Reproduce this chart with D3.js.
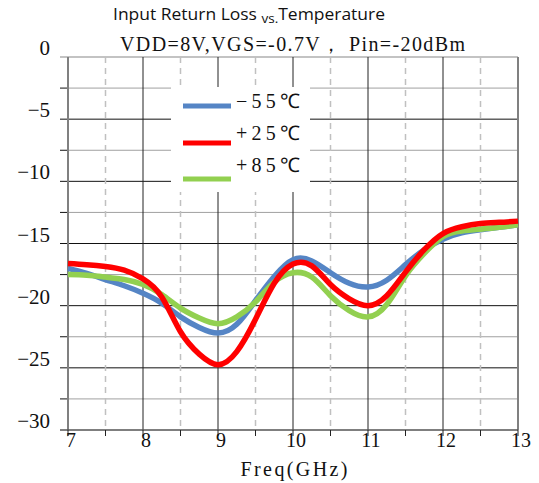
<!DOCTYPE html>
<html><head><meta charset="utf-8">
<script src="https://cdn.jsdelivr.net/npm/d3@7"></script>
<style>body{margin:0;background:#fff}svg{display:block}</style>
</head><body>
<svg id="c" width="539" height="483"></svg>
<script>
const freqs = [7, 7.25, 7.5, 7.75, 8, 8.25, 8.5, 8.75, 9, 9.25, 9.5, 9.75, 10, 10.25, 10.5, 10.75, 11, 11.25, 11.5, 11.75, 12, 12.25, 12.5, 12.75, 13];
const m55 = [-17.0, -17.4, -17.9, -18.4, -19.0, -19.8, -20.9, -21.75, -22.2, -21.5, -19.6, -17.65, -16.3, -16.4, -17.35, -18.2, -18.5, -17.95, -16.7, -15.5, -14.65, -14.15, -13.9, -13.7, -13.5];
const p25 = [-16.6, -16.7, -16.85, -17.15, -17.85, -19.3, -22.1, -23.9, -24.75, -23.7, -21.1, -18.2, -16.65, -16.8, -18.3, -19.45, -20.0, -19.2, -17.3, -15.5, -14.2, -13.65, -13.4, -13.3, -13.2];
const p85 = [-17.5, -17.55, -17.7, -17.9, -18.3, -19.1, -20.2, -21.0, -21.45, -20.9, -19.7, -18.1, -17.35, -17.7, -19.2, -20.4, -20.9, -19.9, -17.6, -15.8, -14.45, -14.0, -13.85, -13.7, -13.5];
const seriesNames = ["\u221255\u2103", "+25\u2103", "+85\u2103"];
const seriesColors = ["#5585C5", "#FF0000", "#92D050"];
const xTicks = [7, 8, 9, 10, 11, 12, 13];
const yTicks = [0, -5, -10, -15, -20, -25, -30];

const svg = d3.select("#c");
const L = 68, R = 518, T = 57, B = 430;
const x = d3.scaleLinear().domain([7, 13]).range([L, R]);
const y = d3.scaleLinear().domain([-30, 0]).range([B, T]);

// horizontal grid
const minorY = d3.range(-27.5, 0, 5);
svg.append("g").selectAll("line").data(minorY).join("line")
  .attr("x1", L).attr("x2", R).attr("y1", d => y(d)).attr("y2", d => y(d))
  .attr("stroke", "#a0a0a0").attr("stroke-width", 1);
svg.append("g").selectAll("line").data([-5, -10, -15, -20, -25]).join("line")
  .attr("x1", L - 8).attr("x2", R).attr("y1", d => y(d)).attr("y2", d => y(d))
  .attr("stroke", "#111").attr("stroke-width", 1);
svg.append("g").selectAll("line").data(minorY).join("line")
  .attr("x1", L - 8).attr("x2", L).attr("y1", d => y(d)).attr("y2", d => y(d))
  .attr("stroke", "#111").attr("stroke-width", 1);
svg.append("line").attr("x1", L - 8).attr("x2", R).attr("y1", y(0)).attr("y2", y(0))
  .attr("stroke", "#888").attr("stroke-width", 1.2);

// vertical grid
svg.append("g").selectAll("line").data(d3.range(7.5, 13, 1)).join("line")
  .attr("x1", d => x(d)).attr("x2", d => x(d)).attr("y1", T).attr("y2", B)
  .attr("stroke", "#c0c0c0").attr("stroke-width", 1.5).attr("stroke-dasharray", "6,5");
svg.append("g").selectAll("line").data([8, 9, 10, 11, 12]).join("line")
  .attr("x1", d => x(d)).attr("x2", d => x(d)).attr("y1", T).attr("y2", B)
  .attr("stroke", "#222").attr("stroke-width", 1);
svg.append("g").selectAll("line").data([7, 13]).join("line")
  .attr("x1", d => x(d)).attr("x2", d => x(d)).attr("y1", T).attr("y2", B)
  .attr("stroke", "#808080").attr("stroke-width", 2);
svg.append("line").attr("x1", L - 8).attr("x2", R).attr("y1", B).attr("y2", B)
  .attr("stroke", "#555").attr("stroke-width", 1.5);
svg.append("g").selectAll("line").data(d3.range(7, 13.01, 0.5)).join("line")
  .attr("x1", d => x(d)).attr("x2", d => x(d)).attr("y1", B).attr("y2", B + 6)
  .attr("stroke", "#222").attr("stroke-width", 1);

// legend background
svg.append("rect").attr("x", 171).attr("y", 87).attr("width", 139).attr("height", 105).attr("fill", "#fff");

// curves
const line = d3.line().x((d, i) => x(freqs[i])).y(d => y(d)).curve(d3.curveNatural);
[[m55, 0], [p85, 2], [p25, 1]].forEach(([s, idx]) => {
  svg.append("path").attr("d", line(s)).attr("fill", "none")
    .attr("stroke", seriesColors[idx]).attr("stroke-width", 5.5).attr("stroke-linejoin", "round");
});

// legend
const legY = [106, 143, 179];
const legTY = [108, 140, 172];
seriesNames.forEach((n, i) => {
  svg.append("line").attr("x1", 183).attr("x2", 231).attr("y1", legY[i]).attr("y2", legY[i])
    .attr("stroke", seriesColors[i]).attr("stroke-width", 5);
  svg.append("text").attr("x", 236).attr("y", legTY[i]).text(n)
    .attr("font-family", "Liberation Serif, serif").attr("font-size", 20).attr("fill", "#111")
    .attr("textLength", 64).attr("lengthAdjust", "spacing");
});

// y labels
svg.append("g").selectAll("text").data(yTicks).join("text")
  .attr("x", 50).attr("y", d => y(d) - 2).attr("text-anchor", "end")
  .attr("font-family", "Liberation Serif, serif").attr("font-size", 21).attr("fill", "#111")
  .text(d => d === 0 ? "0" : "\u2212" + Math.abs(d));
// x labels
svg.append("g").selectAll("text").data(xTicks).join("text")
  .attr("x", d => x(d) + 3).attr("y", 447).attr("text-anchor", "middle")
  .attr("font-family", "Liberation Serif, serif").attr("font-size", 20).attr("fill", "#111")
  .text(d => d);
svg.append("text").attr("x", 294).attr("y", 476).attr("text-anchor", "middle")
  .attr("font-family", "Liberation Serif, serif").attr("font-size", 20).attr("fill", "#111")
  .attr("textLength", 107).attr("lengthAdjust", "spacing")
  .text("Freq(GHz)");

// titles
const t = svg.append("text").attr("x", 113).attr("y", 20)
  .attr("font-family", "Open Sans, sans-serif").attr("font-size", 15.5).attr("fill", "#111")
  .attr("textLength", 272).attr("lengthAdjust", "spacingAndGlyphs");
t.append("tspan").text("Input Return Loss ");
t.append("tspan").attr("font-size", 12).attr("dy", 3).text("vs.");
t.append("tspan").attr("dy", -3).text("Temperature");
svg.append("text").attr("x", 120).attr("y", 51)
  .attr("font-family", "Liberation Serif, serif").attr("font-size", 20).attr("fill", "#111")
  .attr("textLength", 345).attr("lengthAdjust", "spacing")
  .text("VDD=8V,VGS=-0.7V\uFF0C Pin=-20dBm");
</script>
</body></html>
